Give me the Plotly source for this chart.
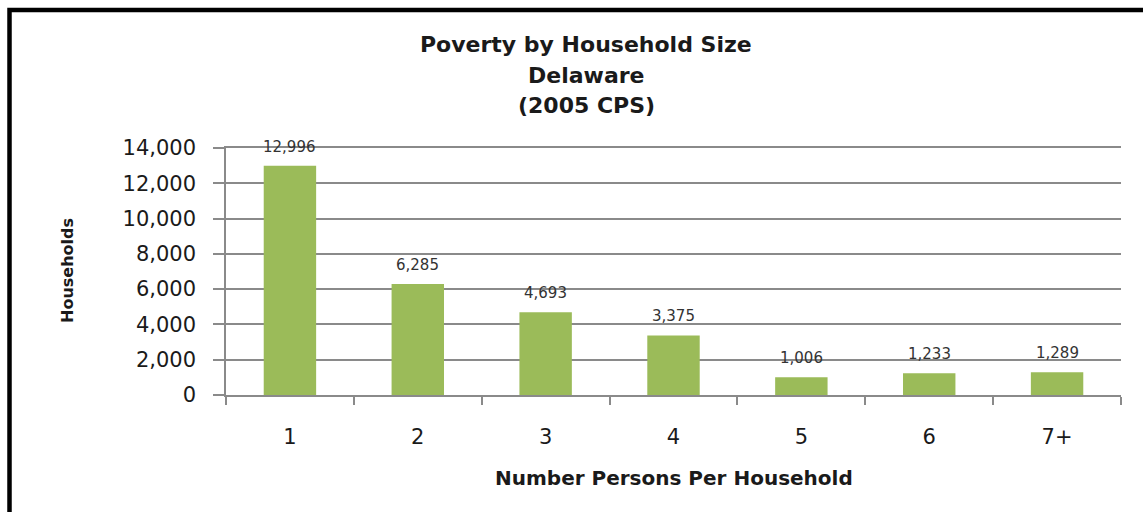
import plotly.graph_objects as go

# Households in poverty by household size, Delaware (2005 CPS)
household_size = ["1", "2", "3", "4", "5", "6", "7+"]
households = [12996, 6285, 4693, 3375, 1006, 1233, 1289]
y_tick_values = [0, 2000, 4000, 6000, 8000, 10000, 12000, 14000]
y_tick_labels = ["0", "2,000", "4,000", "6,000", "8,000", "10,000", "12,000", "14,000"]
title_lines = ["Poverty by Household Size", "Delaware", "(2005 CPS)"]

BAR_GREEN = "#9BBB59"
AXIS_GREY = "#8A8A8A"
TEXT_DARK = "#1A1A1A"

# pixel -> paper helpers for the fixed 1143x512 canvas
PLOT_L, PLOT_R, PLOT_T, PLOT_B = 226, 1121, 148, 395


def px_x(px):
    return (px - PLOT_L) / (PLOT_R - PLOT_L)


def px_y(py):
    return (PLOT_B - py) / (PLOT_B - PLOT_T)


fig = go.Figure(
    go.Bar(
        x=household_size,
        y=households,
        marker=dict(color=BAR_GREEN, line=dict(width=0)),
        width=0.41,
        hoverinfo="x+y",
    )
)

# value labels above each bar (category index keeps "1".."6" from being read as positions)
for idx, val in enumerate(households):
    fig.add_annotation(
        x=idx, y=val, text=f"{val:,}", showarrow=False,
        xref="x", yref="y", yanchor="bottom", yshift=8,
        font=dict(family="DejaVu Sans", size=15, color="#333333"),
    )

# three-line chart title
for i, line in enumerate(title_lines):
    fig.add_annotation(
        x=px_x(586), y=px_y(45 + 30 * i), xref="paper", yref="paper",
        text=line, showarrow=False, xanchor="center", yanchor="middle",
        font=dict(family="DejaVu Sans", size=22, color=TEXT_DARK, weight="bold"),
    )

# axis titles
fig.add_annotation(
    x=px_x(67), y=px_y(271), xref="paper", yref="paper",
    text="Households", textangle=-90, showarrow=False,
    xanchor="center", yanchor="middle",
    font=dict(family="DejaVu Sans", size=16, color=TEXT_DARK, weight="bold"),
)
fig.add_annotation(
    x=0.5, y=px_y(478), xref="paper", yref="paper",
    text="Number Persons Per Household", showarrow=False,
    xanchor="center", yanchor="middle",
    font=dict(family="DejaVu Sans", size=20, color=TEXT_DARK, weight="bold"),
)

# heavy frame along top and left edges
fig.add_shape(
    type="rect", xref="paper", yref="paper",
    x0=px_x(9.5), x1=px_x(1160),
    y0=px_y(540), y1=px_y(10),
    line=dict(color="black", width=4.5), fillcolor="rgba(0,0,0,0)",
    layer="above",
)

fig.update_layout(
    width=1143, height=512,
    margin=dict(l=PLOT_L, r=1143 - PLOT_R, t=PLOT_T, b=512 - PLOT_B),
    paper_bgcolor="white", plot_bgcolor="white",
    showlegend=False,
    bargap=0.59,
    xaxis=dict(
        type="category",
        showline=True, linecolor=AXIS_GREY, linewidth=1.5, mirror=True,
        ticks="outside", tickson="boundaries", ticklen=8,
        tickcolor=AXIS_GREY, tickwidth=1.5,
        ticklabelstandoff=22,
        tickfont=dict(family="DejaVu Sans", size=21, color=TEXT_DARK),
        showgrid=False,
    ),
    yaxis=dict(
        range=[0, 14000],
        tickvals=y_tick_values, ticktext=y_tick_labels,
        showline=True, linecolor=AXIS_GREY, linewidth=1.5,
        ticks="outside", ticklen=11, tickcolor=AXIS_GREY, tickwidth=1.5,
        ticklabelstandoff=13,
        tickfont=dict(family="DejaVu Sans", size=21, color=TEXT_DARK),
        showgrid=True, gridcolor=AXIS_GREY, gridwidth=1.5,
        zeroline=False,
    ),
)

fig.write_html("out.html")
